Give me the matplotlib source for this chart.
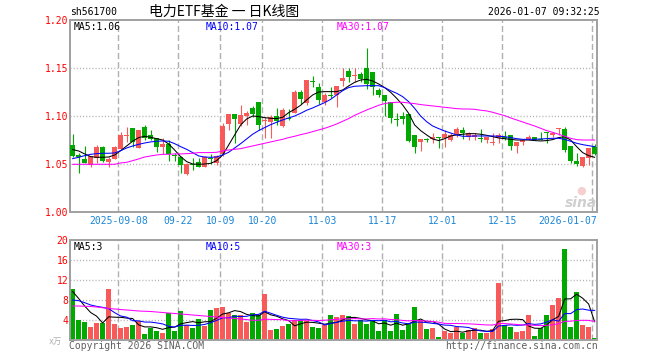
import matplotlib
matplotlib.use("Agg")
import matplotlib.pyplot as plt
from matplotlib.transforms import blended_transform_factory

# ---- data (sh561700 daily K) ----
opens = [1.0701, 1.0594, 1.0556, 1.0493, 1.0563, 1.0684, 1.0524, 1.0559, 1.0660, 1.0799,
         1.0878, 1.0674, 1.0889, 1.0806, 1.0771, 1.0684, 1.0712, 1.0597, 1.0580, 1.0399,
         1.0503, 1.0521, 1.0476, 1.0566, 1.0510, 1.0608, 1.0917, 1.1024, 1.0920, 1.1003,
         1.1087, 1.1149, 1.0951, 1.0944, 1.1003, 1.0900, 1.0983, 1.1038, 1.1257, 1.1142,
         1.1365, 1.1309, 1.1153, 1.1215, 1.1219, 1.1368, 1.1472, 1.1417, 1.1441, 1.1503,
         1.1458, 1.1274, 1.1222, 1.1149, 1.0972, 1.1003, 1.1024, 1.0806, 1.0729, 1.0764,
         1.0760, 1.0785, 1.0771, 1.0753, 1.0816, 1.0858, 1.0788, 1.0788, 1.0771, 1.0753,
         1.0719, 1.0771, 1.0785, 1.0806, 1.0691, 1.0736, 1.0760, 1.0781, 1.0764, 1.0833,
         1.0806, 1.0868, 1.0865, 1.0691, 1.0535, 1.0483, 1.0569, 1.0677]
highs = [1.0816, 1.0615, 1.0691, 1.0587, 1.0701, 1.0691, 1.0580, 1.0691, 1.0840, 1.0885,
         1.0878, 1.0858, 1.0910, 1.0858, 1.0771, 1.0771, 1.0753, 1.0615, 1.0587, 1.0510,
         1.0562, 1.0562, 1.0587, 1.0608, 1.0597, 1.0927, 1.1024, 1.1024, 1.1118, 1.1059,
         1.1111, 1.1149, 1.0990, 1.1014, 1.1083, 1.1083, 1.1076, 1.1274, 1.1274, 1.1375,
         1.1420, 1.1344, 1.1240, 1.1302, 1.1319, 1.1500, 1.1500, 1.1500, 1.1465, 1.1715,
         1.1458, 1.1292, 1.1222, 1.1149, 1.1031, 1.1049, 1.1024, 1.0806, 1.0764, 1.0778,
         1.0823, 1.0788, 1.0858, 1.0823, 1.0885, 1.0892, 1.0833, 1.0823, 1.0865, 1.0781,
         1.0823, 1.0823, 1.0847, 1.0806, 1.0736, 1.0760, 1.0806, 1.0781, 1.0840, 1.0840,
         1.0840, 1.0875, 1.0885, 1.0691, 1.0615, 1.0573, 1.0670, 1.0712]
lows = [1.0580, 1.0406, 1.0510, 1.0476, 1.0510, 1.0528, 1.0476, 1.0559, 1.0660, 1.0736,
        1.0684, 1.0667, 1.0753, 1.0753, 1.0632, 1.0608, 1.0538, 1.0538, 1.0406, 1.0392,
        1.0441, 1.0469, 1.0469, 1.0503, 1.0493, 1.0587, 1.0858, 1.0726, 1.0900, 1.0910,
        1.0997, 1.0858, 1.0771, 1.0771, 1.0910, 1.0892, 1.0962, 1.1031, 1.1128, 1.1118,
        1.1309, 1.1128, 1.1118, 1.1188, 1.1101, 1.1319, 1.1361, 1.1361, 1.1361, 1.1281,
        1.1222, 1.1205, 1.1003, 1.0934, 1.0899, 1.0920, 1.0736, 1.0615, 1.0642, 1.0736,
        1.0719, 1.0667, 1.0677, 1.0747, 1.0788, 1.0760, 1.0753, 1.0753, 1.0736, 1.0719,
        1.0701, 1.0726, 1.0753, 1.0649, 1.0615, 1.0701, 1.0753, 1.0753, 1.0753, 1.0719,
        1.0788, 1.0806, 1.0632, 1.0517, 1.0483, 1.0476, 1.0493, 1.0597]
closes = [1.0587, 1.0573, 1.0517, 1.0587, 1.0684, 1.0538, 1.0556, 1.0684, 1.0806, 1.0806,
          1.0733, 1.0858, 1.0771, 1.0764, 1.0684, 1.0712, 1.0608, 1.0587, 1.0493, 1.0503,
          1.0497, 1.0476, 1.0580, 1.0559, 1.0587, 1.0900, 1.1024, 1.0969, 1.1014, 1.1038,
          1.1024, 1.0910, 1.0958, 1.0997, 1.0955, 1.1066, 1.0976, 1.1257, 1.1177, 1.1375,
          1.1358, 1.1170, 1.1222, 1.1208, 1.1319, 1.1396, 1.1413, 1.1424, 1.1389, 1.1340,
          1.1309, 1.1222, 1.1160, 1.0986, 1.0965, 1.0969, 1.0747, 1.0684, 1.0764, 1.0757,
          1.0781, 1.0778, 1.0816, 1.0806, 1.0865, 1.0823, 1.0823, 1.0806, 1.0764, 1.0781,
          1.0736, 1.0806, 1.0778, 1.0691, 1.0736, 1.0753, 1.0781, 1.0753, 1.0757, 1.0826,
          1.0830, 1.0875, 1.0649, 1.0538, 1.0503, 1.0573, 1.0670, 1.0608]

ma5 = [1.0653, 1.0639, 1.0608, 1.0580, 1.0573, 1.0573, 1.0576, 1.0597, 1.0642, 1.0691,
       1.0740, 1.0778, 1.0792, 1.0781, 1.0767, 1.0753, 1.0712, 1.0649, 1.0580, 1.0528,
       1.0503, 1.0500, 1.0503, 1.0510, 1.0538, 1.0597, 1.0701, 1.0806, 1.0910, 1.0972,
       1.1003, 1.0997, 1.0986, 1.0979, 1.0976, 1.0990, 1.1038, 1.1073, 1.1115, 1.1170,
       1.1222, 1.1253, 1.1257, 1.1257, 1.1257, 1.1274, 1.1316, 1.1354, 1.1378, 1.1385,
       1.1368, 1.1337, 1.1299, 1.1250, 1.1188, 1.1118, 1.1031, 1.0910, 1.0851, 1.0806,
       1.0764, 1.0747, 1.0767, 1.0795, 1.0806, 1.0813, 1.0819, 1.0819, 1.0813, 1.0802,
       1.0788, 1.0774, 1.0767, 1.0760, 1.0753, 1.0753, 1.0753, 1.0747, 1.0743, 1.0747,
       1.0757, 1.0778, 1.0788, 1.0753, 1.0684, 1.0622, 1.0590, 1.0573]
ma10 = [1.0559, 1.0573, 1.0590, 1.0604, 1.0611, 1.0615, 1.0615, 1.0618, 1.0642, 1.0670,
        1.0691, 1.0708, 1.0722, 1.0733, 1.0740, 1.0743, 1.0740, 1.0715, 1.0684, 1.0656,
        1.0622, 1.0587, 1.0576, 1.0573, 1.0576, 1.0597, 1.0625, 1.0670, 1.0715, 1.0764,
        1.0813, 1.0851, 1.0882, 1.0913, 1.0938, 1.0962, 1.0983, 1.1003, 1.1031, 1.1063,
        1.1087, 1.1115, 1.1142, 1.1177, 1.1222, 1.1267, 1.1299, 1.1313, 1.1316, 1.1319,
        1.1319, 1.1319, 1.1299, 1.1267, 1.1240, 1.1205, 1.1153, 1.1083, 1.1003, 1.0944,
        1.0899, 1.0872, 1.0847, 1.0826, 1.0806, 1.0792, 1.0792, 1.0795, 1.0795, 1.0795,
        1.0795, 1.0792, 1.0788, 1.0778, 1.0767, 1.0760, 1.0760, 1.0760, 1.0764, 1.0767,
        1.0771, 1.0771, 1.0760, 1.0740, 1.0719, 1.0705, 1.0694, 1.0684]
ma30 = [1.0500, 1.0500, 1.0500, 1.0500, 1.0500, 1.0500, 1.0500, 1.0500, 1.0514, 1.0521,
        1.0538, 1.0556, 1.0576, 1.0587, 1.0597, 1.0604, 1.0604, 1.0608, 1.0608, 1.0611,
        1.0615, 1.0622, 1.0622, 1.0622, 1.0625, 1.0639, 1.0649, 1.0656, 1.0663, 1.0677,
        1.0691, 1.0705, 1.0719, 1.0733, 1.0747, 1.0760, 1.0778, 1.0792, 1.0809, 1.0823,
        1.0840, 1.0858, 1.0875, 1.0896, 1.0920, 1.0948, 1.0976, 1.1010, 1.1038, 1.1066,
        1.1090, 1.1115, 1.1132, 1.1142, 1.1146, 1.1146, 1.1139, 1.1132, 1.1122, 1.1115,
        1.1108, 1.1101, 1.1094, 1.1087, 1.1080, 1.1076, 1.1076, 1.1073, 1.1063, 1.1056,
        1.1042, 1.1024, 1.1007, 1.0983, 1.0962, 1.0941, 1.0920, 1.0899, 1.0875, 1.0851,
        1.0833, 1.0813, 1.0792, 1.0771, 1.0757, 1.0753, 1.0753, 1.0753]

# volume in units of 10k lots ("x万")
volume = [10.2, 4.0, 3.6, 2.6, 3.4, 3.4, 10.2, 3.2, 2.5, 2.6,
          3.0, 3.8, 1.2, 2.5, 1.8, 1.4, 5.4, 1.8, 5.8, 3.0,
          2.4, 4.2, 2.8, 6.0, 6.4, 6.6, 5.4, 5.0, 5.0, 3.6,
          5.4, 5.0, 9.2, 2.0, 2.2, 2.8, 3.2, 4.0, 4.0, 3.8,
          2.6, 2.4, 3.0, 5.0, 4.6, 5.0, 4.8, 3.2, 4.0, 3.2,
          4.0, 1.8, 4.0, 1.8, 5.2, 2.0, 3.2, 6.6, 4.0, 2.2,
          2.4, 0.6, 1.8, 1.4, 2.6, 1.4, 2.0, 2.4, 1.4, 1.4,
          2.2, 11.4, 3.0, 2.6, 1.6, 1.8, 5.0, 0.8, 2.4, 5.0,
          7.0, 8.4, 18.2, 2.6, 9.6, 3.0, 2.6, 0.4]
vol_ma5 = [9.70, 8.30, 6.80, 5.50, 4.76, 3.40, 4.64, 4.56, 4.54, 4.38,
           4.30, 3.02, 2.62, 2.62, 2.46, 2.14, 2.46, 2.58, 3.24, 3.48,
           3.68, 3.44, 3.64, 3.68, 4.36, 5.20, 5.44, 5.88, 5.68, 5.12,
           4.88, 4.80, 5.64, 5.04, 4.76, 4.24, 3.88, 2.84, 3.24, 3.56,
           3.52, 3.36, 3.16, 3.36, 3.52, 4.00, 4.48, 4.52, 4.32, 4.04,
           3.84, 3.24, 3.40, 2.96, 3.36, 2.96, 3.24, 3.76, 4.20, 3.60,
           3.68, 3.16, 2.20, 1.68, 1.76, 1.56, 1.84, 1.96, 1.96, 1.72,
           1.88, 3.76, 3.88, 4.12, 4.16, 4.08, 2.80, 2.36, 2.32, 3.00,
           4.04, 4.72, 8.20, 8.24, 9.16, 8.36, 7.20, 3.64]
vol_ma10 = [8.00, 7.87, 7.47, 7.00, 6.73, 6.53, 6.27, 5.47, 4.80, 4.57,
            3.85, 3.83, 3.59, 3.58, 3.42, 3.22, 2.74, 2.60, 2.93, 2.97,
            2.91, 2.95, 3.11, 3.46, 3.92, 4.44, 4.44, 4.76, 4.68, 4.74,
            5.04, 5.12, 5.76, 5.36, 4.94, 4.56, 4.34, 4.24, 4.14, 4.16,
            3.88, 3.62, 3.00, 3.30, 3.54, 3.76, 3.92, 3.84, 3.84, 3.78,
            3.92, 3.86, 3.96, 3.64, 3.70, 3.40, 3.24, 3.58, 3.58, 3.48,
            3.32, 3.20, 2.98, 2.94, 2.68, 2.62, 2.50, 2.08, 1.82, 1.74,
            1.72, 2.80, 2.92, 3.04, 2.94, 2.98, 3.28, 3.12, 3.22, 3.58,
            4.06, 3.76, 5.28, 5.28, 6.08, 6.20, 5.96, 5.92]
vol_ma30 = [6.80, 6.80, 6.75, 6.70, 6.60, 6.45, 6.30, 6.20, 6.10, 6.00,
            5.90, 5.80, 5.75, 5.70, 5.60, 5.50, 5.40, 5.30, 5.20, 5.10,
            5.00, 4.90, 4.80, 4.70, 4.60, 4.50, 4.40, 4.30, 4.20, 4.09,
            3.93, 3.96, 4.15, 4.13, 4.09, 4.07, 3.84, 3.86, 3.91, 3.95,
            3.94, 3.89, 3.95, 4.04, 4.13, 4.25, 4.23, 4.28, 4.22, 4.22,
            4.28, 4.20, 4.24, 4.10, 4.06, 3.91, 3.83, 3.89, 3.85, 3.81,
            3.71, 3.56, 3.32, 3.30, 3.31, 3.27, 3.23, 3.17, 3.09, 3.01,
            2.99, 3.29, 3.29, 3.21, 3.11, 3.00, 3.01, 2.93, 2.88, 2.94,
            3.04, 3.26, 3.73, 3.76, 3.91, 3.94, 3.92, 3.71]

tick_idx = [8, 18, 25, 32, 42, 52, 62, 72, 87]
tick_labels = ["2025-09-08", "09-22", "10-09", "10-20", "11-03",
               "11-17", "12-01", "12-15", "2026-01-07"]
price_ticks = [1.00, 1.05, 1.10, 1.15, 1.20]
vol_ticks = [4, 8, 12, 16, 20]

RED, GREEN = "#f85a5a", "#00a800"
BLUE, MAG = "#0000ff", "#ff00ff"
GRID, FRAME, GREY = "#b0b0b0", "#a0a0a0", "#606060"
TICK_BLUE = "#1a86d8"
MONO = ["DejaVu Sans Mono"]
CJK = ["Noto Sans CJK SC", "DejaVu Sans"]

W, H = 660, 360
L, R = 70.3, 597.3          # plot frame, pixels
STEP = 6.0                  # pixels per trading day
BODY = 0.78                 # candle width, days
n = len(closes)


def fx(px):
    return px / W


def fy(py):
    return 1 - py / H


fig = plt.figure(figsize=(W / 100, H / 100), dpi=100)
ax = fig.add_axes([fx(L), fy(212.3), (R - L) / W, 192.0 / H])
axv = fig.add_axes([fx(L), fy(340), (R - L) / W, 100.0 / H])

xs = list(range(n))
mid = [i + BODY / 2 for i in xs]
up = [c >= o for o, c in zip(opens, closes)]
cols = [RED if u else GREEN for u in up]

for a, lo, hi in ((ax, 1.0, 1.2), (axv, 0, 20)):
    a.set_xlim(0, (R - L) / STEP)
    a.set_ylim(lo, hi)
    a.set_xticks([])
    for s in a.spines.values():
        s.set_color(FRAME)
        s.set_linewidth(1.4)
    for t in tick_idx:
        a.axvline(t, color=GRID, lw=1.0, ls=(0, (4.3, 2.2)), zorder=0)

for y in price_ticks[1:-1]:
    ax.axhline(y, color=GRID, lw=1.0, ls=(0, (0.75, 1.5)), zorder=0)
for y in vol_ticks[:-1]:
    axv.axhline(y, color=GRID, lw=1.0, ls=(0, (0.75, 1.5)), zorder=0)

# candles
ax.vlines(mid, lows, highs, colors=cols, lw=0.8, zorder=2)
bottoms = [min(o, c) for o, c in zip(opens, closes)]
heights = [max(abs(c - o), 0.0011) for o, c in zip(opens, closes)]
ax.bar(xs, heights, bottom=bottoms, width=BODY, align="edge", color=cols,
       linewidth=0, zorder=3)
ax.plot(mid, ma5, color="black", lw=0.75, zorder=4)
ax.plot(mid, ma10, color=BLUE, lw=0.75, zorder=4)
ax.plot(mid, ma30, color=MAG, lw=0.75, zorder=4)

# volume
axv.bar(xs, volume, width=BODY, align="edge", color=cols, linewidth=0, zorder=2)
axv.plot(mid, vol_ma5, color="black", lw=0.75, zorder=4)
axv.plot(mid, vol_ma10, color=BLUE, lw=0.75, zorder=4)
axv.plot(mid, vol_ma30, color=MAG, lw=0.75, zorder=4)

# y labels
ax.set_yticks(price_ticks)
ax.set_yticklabels([f"{v:.2f}" for v in price_ticks])
axv.set_yticks(vol_ticks)
axv.set_yticklabels([str(v) for v in vol_ticks])
for a in (ax, axv):
    a.tick_params(axis="y", length=0, pad=1.5, labelsize=7, labelcolor="red")
    for lab in a.get_yticklabels():
        lab.set_family(MONO)

# date labels
tr = blended_transform_factory(ax.transData, fig.transFigure)
for k, (t, lab) in enumerate(zip(tick_idx, tick_labels)):
    if k == len(tick_idx) - 1:
        ax.text(ax.get_xlim()[1], fy(221), lab, transform=tr, ha="right",
                va="center", color=TICK_BLUE, fontsize=7, family=MONO)
    else:
        ax.text(t, fy(221), lab, transform=tr, ha="center", va="center",
                color=TICK_BLUE, fontsize=7, family=MONO)

# header
fig.text(fx(70), fy(12), "sh561700", ha="left", va="center", fontsize=7, family=MONO)
fig.text(fx(224), fy(12), "电力ETF基金 一 日K线图", ha="center", va="center",
         fontsize=10, family=CJK)
fig.text(fx(600), fy(12), "2026-01-07 09:32:25", ha="right", va="center",
         fontsize=7, family=MONO)

# MA legends
for px, txt, c in ((74, "MA5:1.06", "black"), (206, "MA10:1.07", BLUE),
                   (337, "MA30:1.07", MAG)):
    fig.text(fx(px), fy(27), txt, ha="left", va="center", color=c,
             fontsize=7, family=MONO)
for px, txt, c in ((74, "MA5:3", "black"), (206, "MA10:5", BLUE),
                   (337, "MA30:3", MAG)):
    fig.text(fx(px), fy(247), txt, ha="left", va="center", color=c,
             fontsize=7, family=MONO)

fig.text(fx(62), fy(341), "x万", ha="right", va="center", color="#b0b0b0",
         fontsize=6, family=["DejaVu Sans Mono", "Noto Sans CJK SC"])
fig.text(fx(69), fy(346), "Copyright 2026 SINA.COM", ha="left", va="center",
         color=GREY, fontsize=7, family=MONO)
fig.text(fx(597.5), fy(346), "http://finance.sina.com.cn", ha="right",
         va="center", color=GREY, fontsize=7, family=MONO)

# watermark
fig.text(fx(581), fy(191), "●", ha="center", va="center", color="#f6d0d0",
         fontsize=8, family=["DejaVu Sans"])
fig.text(fx(581), fy(203), "sina", ha="center", va="center", color="#cfcfcf",
         fontsize=10, fontstyle="italic", fontweight="bold", family=["DejaVu Sans"])

fig.savefig("out.png", dpi=100, facecolor="white")
